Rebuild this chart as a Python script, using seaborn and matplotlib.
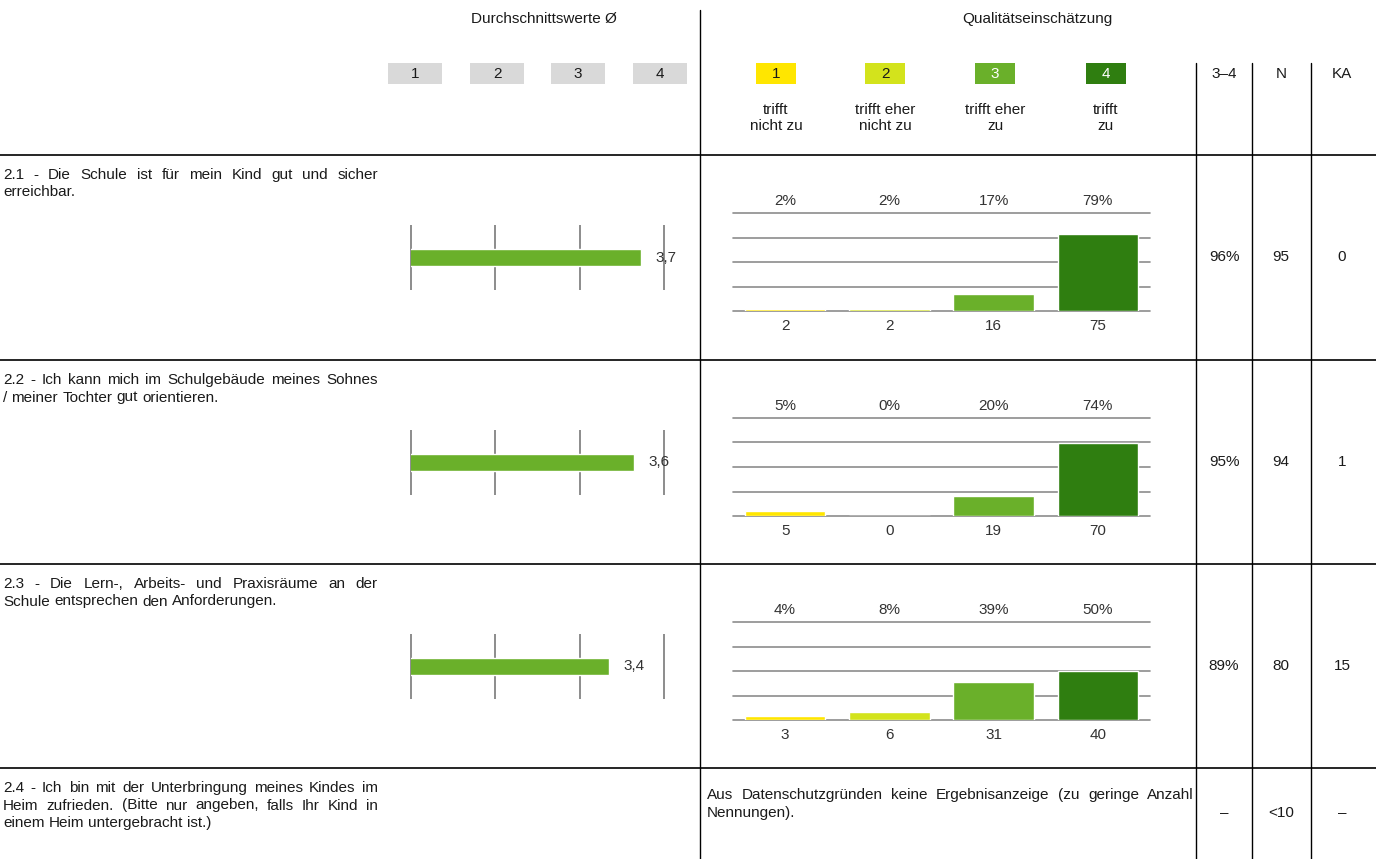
import numpy as np
import pandas as pd
import matplotlib
matplotlib.use("Agg")
import matplotlib.pyplot as plt
import seaborn as sns

# Daten
questions = [
    ["2.1 - Die Schule ist für mein Kind gut und sicher", "erreichbar."],
    ["2.2 - Ich kann mich im Schulgebäude meines Sohnes", "/ meiner Tochter gut orientieren."],
    ["2.3 - Die Lern-, Arbeits- und Praxisräume an der", "Schule entsprechen den Anforderungen."],
    ["2.4 - Ich bin mit der Unterbringung meines Kindes im",
     "Heim zufrieden. (Bitte nur angeben, falls Ihr Kind in",
     "einem Heim untergebracht ist.)"],
]
avg_values = [3.73, 3.64, 3.35]
avg_labels = ["3,7", "3,6", "3,4"]
counts = [[2, 2, 16, 75], [5, 0, 19, 70], [3, 6, 31, 40]]
percents = [[2, 2, 17, 79], [5, 0, 20, 74], [4, 8, 39, 50]]
share_34 = ["96%", "95%", "89%", "–"]
n_values = ["95", "94", "80", "<10"]
ka_values = ["0", "1", "15", "–"]
scale_labels = ["1", "2", "3", "4"]
answer_labels = ["trifft\nnicht zu", "trifft eher\nnicht zu", "trifft eher\nzu", "trifft\nzu"]
hidden_text = ["Aus Datenschutzgründen keine Ergebnisanzeige (zu geringe Anzahl", "Nennungen)."]

colors = ["#FFE600", "#D3E31C", "#6AB02A", "#2F7E10"]
avg_color = "#6AB02A"

sns.set_theme(style="white")
plt.rcParams["font.family"] = ["Liberation Sans", "DejaVu Sans"]

W, H = 1376, 859
fig = plt.figure(figsize=(W / 100, H / 100), dpi=100)
fig.patch.set_facecolor("white")
renderer = fig.canvas.get_renderer()


def box(x0, y0, x1, y1):
    # Pixelkoordinaten -> Figure-Anteile
    return [x0 / W, 1 - y1 / H, (x1 - x0) / W, (y1 - y0) / H]


# Hintergrund-Achse für Linien und Texte
bg = fig.add_axes([0, 0, 1, 1])
bg.set_xlim(0, W)
bg.set_ylim(H, 0)
bg.axis("off")

fs = 11
txt = "#1a1a1a"
row_tops = [155, 360, 564, 768]


def blocksatz(lines, x0, x1, y0, step):
    # Blocksatz: alle Zeilen ausser der letzten auf volle Breite
    space = 0.278 * fs * 100 / 72
    for k, line in enumerate(lines):
        y = y0 + k * step + 4  # Grundlinie
        words = line.split(" ")
        objs = [bg.text(0, y, w, ha="left", va="baseline", fontsize=fs, color=txt) for w in words]
        widths = [o.get_window_extent(renderer).width for o in objs]
        if k < len(lines) - 1 and len(words) > 1:
            gap = (x1 - x0 - sum(widths)) / (len(words) - 1)
        else:
            gap = space
        x = x0
        for o, w in zip(objs, widths):
            o.set_x(x)
            x += w + gap


# Kopfzeile
bg.text(544, 19, "Durchschnittswerte Ø", ha="center", va="center", fontsize=fs, color=txt)
bg.text(1037, 19, "Qualitätseinschätzung", ha="center", va="center", fontsize=fs, color=txt)
for lab, cx in zip(scale_labels, [415, 497, 578, 660]):
    bg.add_patch(plt.Rectangle((cx - 27, 63), 54, 21, color="#D9D9D9", lw=0))
    bg.text(cx, 74, lab, ha="center", va="center", fontsize=fs, color=txt)
for i, cx in enumerate([776, 885, 995, 1106]):
    bg.add_patch(plt.Rectangle((cx - 20, 63), 40, 21, color=colors[i], lw=0))
    bg.text(cx, 74, scale_labels[i], ha="center", va="center", fontsize=fs,
            color=txt if i < 2 else "white")
    bg.text(cx, 118, answer_labels[i], ha="center", va="center", fontsize=fs,
            linespacing=1.25, color=txt)
for lab, cx in zip(["3–4", "N", "KA"], [1224, 1281, 1342]):
    bg.text(cx, 74, lab, ha="center", va="center", fontsize=fs, color=txt)

# Tabellenlinien
bg.plot([700, 700], [10, H], color="black", lw=1)
for x in [1196, 1252, 1311]:
    bg.plot([x, x], [63, H], color="black", lw=1)
for y in row_tops:
    bg.plot([0, W], [y, y], color="black", lw=1.2)

for r, top in enumerate(row_tops):
    blocksatz(questions[r], 3, 378, top + 20, 17.5)
    yc = top + 102 if r < 3 else top + 45
    bg.text(1224, yc, share_34[r], ha="center", va="center", fontsize=fs, color=txt)
    bg.text(1281, yc, n_values[r], ha="center", va="center", fontsize=fs, color=txt)
    bg.text(1342, yc, ka_values[r], ha="center", va="center", fontsize=fs, color=txt)

    if r == 3:
        blocksatz(hidden_text, 707, 1194, top + 27, 17.5)
        continue

    # Durchschnittsbalken
    ax = fig.add_axes(box(411, top + 70, 664, top + 135))
    df_avg = pd.DataFrame({"frage": ["q"], "wert": [avg_values[r]]})
    sns.barplot(data=df_avg, x="wert", y="frage", orient="h", color=avg_color,
                width=0.25, saturation=1, ax=ax)
    ax.set_xlim(1, 4)
    ax.set_ylim(0.5, -0.5)
    ax.vlines([1, 2, 3, 4], 0.5, -0.5, color="#8C8C8C", lw=1.4, clip_on=False, zorder=0)
    ax.annotate(avg_labels[r], (avg_values[r], 0), xytext=(10.5, 0), textcoords="offset points",
                ha="left", va="center", fontsize=fs, color="#333333", annotation_clip=False)
    ax.axis("off")

    # Verteilung
    ax2 = fig.add_axes(box(733, top + 58, 1150, top + 156))
    df = pd.DataFrame({"stufe": scale_labels, "prozent": percents[r]})
    for g in [0, 25, 50, 75, 100]:
        ax2.axhline(g, color="#8C8C8C", lw=1.2, zorder=0, clip_on=False)
    sns.barplot(data=df, x="stufe", y="prozent", hue="stufe", palette=colors,
                width=0.77, saturation=1, legend=False, ax=ax2, zorder=2)
    ax2.set_xlim(-0.5, 3.5)
    ax2.set_ylim(0, 100)
    for i in range(4):
        ax2.text(i, 112, f"{percents[r][i]}%", ha="center", va="center",
                 fontsize=fs, color="#333333")
        ax2.text(i, -15, str(counts[r][i]), ha="center", va="center",
                 fontsize=fs, color="#333333")
    ax2.axis("off")

fig.savefig("out.png", dpi=100, facecolor="white")
